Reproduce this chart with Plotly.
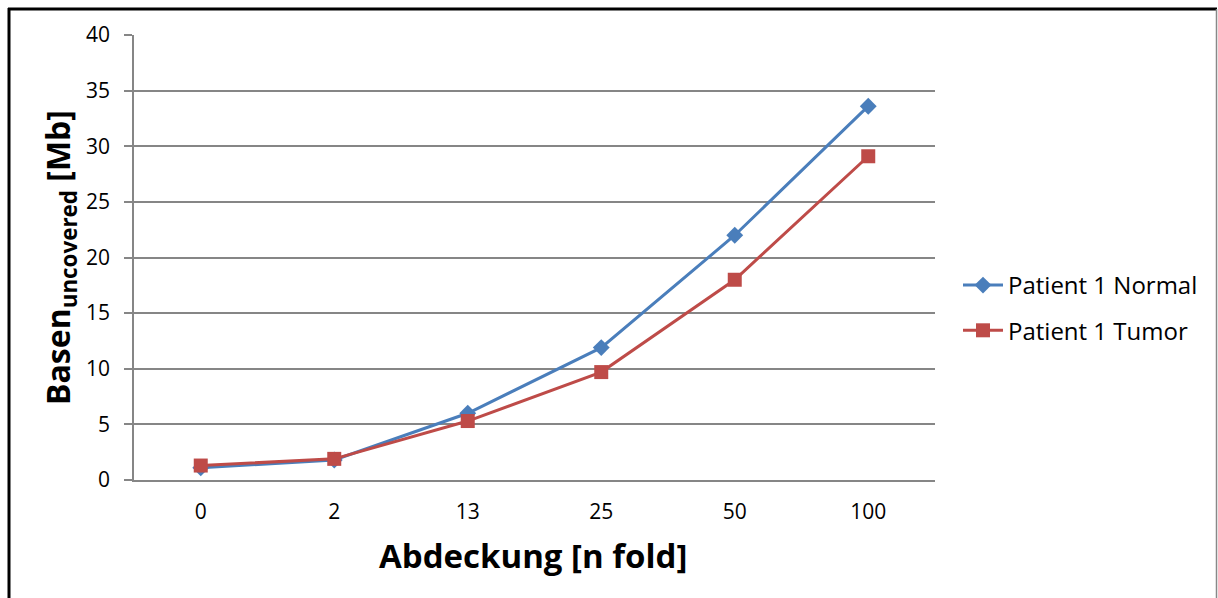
import plotly.graph_objects as go

categories = ["0", "2", "13", "25", "50", "100"]
normal = [1.1, 1.8, 6.0, 11.9, 22.0, 33.6]
tumor = [1.3, 1.9, 5.3, 9.7, 18.0, 29.1]
y_ticks = [0, 5, 10, 15, 20, 25, 30, 35, 40]

FONT = "Open Sans"

fig = go.Figure()
fig.add_trace(go.Scatter(
    x=categories, y=normal, mode="lines+markers", name="Patient 1 Normal",
    legendgroup="n",
    line=dict(color="#4A7EBB", width=3),
    marker=dict(symbol="diamond", size=13, color="#4A7EBB"),
))
fig.add_trace(go.Scatter(
    x=categories, y=tumor, mode="lines+markers", name="Patient 1 Tumor",
    legendgroup="t",
    line=dict(color="#BE4B48", width=3),
    marker=dict(symbol="square", size=14, color="#BE4B48"),
))

L, R, T, B = 134, 283, 35, 118
W, H = 1218, 598
pw, ph = W - L - R, H - T - B

def px(x):
    return (x - L) / pw

def py(y):
    return (H - B - y) / ph

fig.update_layout(
    width=W, height=H,
    margin=dict(l=L, r=R, t=T, b=B),
    paper_bgcolor="white", plot_bgcolor="white",
    font=dict(family=FONT, size=21, color="#000000"),
    showlegend=True,
    legend=dict(x=px(958), y=py(263), xanchor="left", yanchor="top",
                font=dict(size=24, family=FONT), bgcolor="rgba(0,0,0,0)",
                tracegroupgap=11, itemwidth=40),
    xaxis=dict(
        type="category", range=[-0.5, 5.5], showgrid=False,
        showline=True, linecolor="#868686", linewidth=1.5,
        ticks="", tickfont=dict(size=21, family=FONT), ticklabelstandoff=12,
        zeroline=False,
    ),
    yaxis=dict(
        range=[0, 40], tickvals=y_ticks, showgrid=True, gridcolor="#868686",
        gridwidth=1.5, showline=True, linecolor="#868686", linewidth=1.5,
        ticks="outside", ticklen=8, tickcolor="#868686", tickwidth=1.5,
        tickfont=dict(size=21, family=FONT), ticklabelstandoff=10,
        zeroline=False,
    ),
    annotations=[
        dict(text="<b>Abdeckung [n fold]</b>", xref="paper", yref="paper",
             x=px(533), y=py(555), xanchor="center", yanchor="middle",
             showarrow=False, font=dict(size=33, family=FONT)),
        dict(text="<b>Basen<sub>uncovered</sub> [Mb]</b>", xref="paper", yref="paper",
             x=px(60), y=py(258), xanchor="center", yanchor="middle",
             textangle=-90, showarrow=False, font=dict(size=32, family=FONT)),
    ],
    shapes=[
        dict(type="line", xref="paper", yref="paper", x0=px(8), x1=px(1217),
             y0=py(9), y1=py(9), line=dict(color="#000000", width=3)),
        dict(type="line", xref="paper", yref="paper", x0=px(9), x1=px(9),
             y0=py(8), y1=py(600), line=dict(color="#000000", width=3)),
        dict(type="line", xref="paper", yref="paper", x0=px(1216.5), x1=px(1216.5),
             y0=py(9), y1=py(600), line=dict(color="#888888", width=1.5)),
    ],
)

fig.write_html("out.html")
